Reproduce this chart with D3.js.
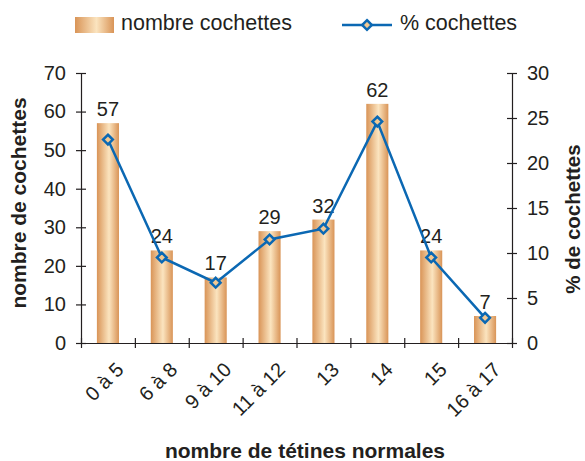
<!DOCTYPE html>
<html>
<head>
<meta charset="utf-8">
<script src="https://cdn.jsdelivr.net/npm/d3@7"></script>
<style>
body{margin:0;background:#fff;}
text{font-family:"Liberation Sans",Arial,sans-serif;fill:#231f20;}
</style>
</head>
<body>
<svg width="585" height="461"></svg>
<script>
var categories = ["0 à 5","6 à 8","9 à 10","11 à 12","13","14","15","16 à 17"];
var counts = [57,24,17,29,32,62,24,7];
var percents = [22.6,9.5,6.7,11.5,12.7,24.6,9.5,2.8];
var leftTicks = [0,10,20,30,40,50,60,70];
var rightTicks = [0,5,10,15,20,25,30];

var svg = d3.select("svg"),
	margin = {top: 73, right: 73, bottom: 118, left: 81},
	width = 585 - margin.left - margin.right,
	height = 461 - margin.top - margin.bottom,
	g = svg.append("g").attr("transform","translate("+margin.left+","+margin.top+")");

var defs = svg.append("defs");
var grad = defs.append("linearGradient").attr("id","barGrad")
	.attr("x1","0%").attr("x2","100%").attr("y1","0%").attr("y2","0%");
grad.append("stop").attr("offset","0%").attr("stop-color","#d99457");
grad.append("stop").attr("offset","55%").attr("stop-color","#fbe4bf");
grad.append("stop").attr("offset","100%").attr("stop-color","#d99457");

var x = d3.scaleBand().domain(categories).range([0,width]).paddingInner(0.59).paddingOuter(0.295);
var xb = d3.scaleLinear().domain([0,categories.length]).range([0,width]);
var y = d3.scaleLinear().domain([0,70]).range([height,0]);
var y2 = d3.scaleLinear().domain([0,30]).range([height,0]);

// bars
g.selectAll(".bar").data(counts).enter().append("rect")
	.attr("x",function(d,i){return x(categories[i]);})
	.attr("width",x.bandwidth())
	.attr("y",function(d){return y(d);})
	.attr("height",function(d){return height-y(d);})
	.attr("fill","url(#barGrad)");

g.selectAll(".val").data(counts).enter().append("text")
	.attr("x",function(d,i){return x(categories[i])+x.bandwidth()/2;})
	.attr("y",function(d){return y(d)-7;})
	.attr("text-anchor","middle")
	.style("font-size","20px")
	.text(function(d){return d;});

// axes
function crossTicks(sel, horiz){
	sel.selectAll(".tick line").attr(horiz?"y1":"x1",-5).attr(horiz?"y2":"x2",5).attr("stroke","#231f20").attr("stroke-width",1.2);
	sel.select(".domain").attr("stroke","#231f20").attr("stroke-width",1.2);
	sel.selectAll("text").style("font-size","20px").attr("fill","#231f20");
}

var ax = g.append("g").attr("transform","translate(0,"+height+")")
	.call(d3.axisBottom(xb).tickValues(d3.range(0,categories.length+1)).tickSizeOuter(0).tickFormat(""));
crossTicks(ax,true);

var al = g.append("g").call(d3.axisLeft(y).tickValues(leftTicks).tickSizeOuter(0).tickPadding(9));
crossTicks(al,false);

var ar = g.append("g").attr("transform","translate("+width+",0)")
	.call(d3.axisRight(y2).tickValues(rightTicks).tickSizeOuter(0).tickPadding(9));
crossTicks(ar,false);

// x labels
g.selectAll(".xl").data(categories).enter().append("text")
	.attr("transform",function(d){return "translate("+(x(d)+x.bandwidth()/2+7)+","+(height+18)+") rotate(-45)";})
	.attr("text-anchor","end")
	.attr("dy","0.7em")
	.style("font-size","20px")
	.text(function(d){return d;});

// line
var line = d3.line()
	.x(function(d,i){return x(categories[i])+x.bandwidth()/2;})
	.y(function(d){return y2(d);});
g.append("path").datum(percents)
	.attr("fill","none").attr("stroke","#0b68b3").attr("stroke-width",2.5)
	.attr("d",line);

var diamond = d3.symbol().type(d3.symbolDiamond2).size(60);
g.selectAll(".pt").data(percents).enter().append("path")
	.attr("d",diamond)
	.attr("transform",function(d,i){return "translate("+(x(categories[i])+x.bandwidth()/2)+","+y2(d)+")";})
	.attr("fill","#f2c993").attr("stroke","#0b68b3").attr("stroke-width",2.5);

// axis titles
svg.append("text")
	.attr("transform","translate(26,203) rotate(-90)")
	.attr("text-anchor","middle")
	.style("font-size","21px").style("font-weight","bold")
	.text("nombre de cochettes");
svg.append("text")
	.attr("transform","translate(580,219) rotate(-90)")
	.attr("text-anchor","middle")
	.style("font-size","20.5px").style("font-weight","bold")
	.text("% de cochettes");
svg.append("text")
	.attr("x",305).attr("y",458)
	.attr("text-anchor","middle")
	.style("font-size","21px").style("font-weight","bold")
	.text("nombre de tétines normales");

// legend
var lg = svg.append("g");
lg.append("rect").attr("x",75).attr("y",17).attr("width",39).attr("height",16).attr("fill","url(#barGrad)");
lg.append("text").attr("x",121).attr("y",30).style("font-size","21.5px").text("nombre cochettes");
lg.append("line").attr("x1",342).attr("x2",392).attr("y1",25).attr("y2",25)
	.attr("stroke","#0b68b3").attr("stroke-width",2.5);
lg.append("path").attr("d",diamond).attr("transform","translate(367,25)")
	.attr("fill","#f2c993").attr("stroke","#0b68b3").attr("stroke-width",2.5);
lg.append("text").attr("x",400).attr("y",30).style("font-size","21.5px").text("% cochettes");
</script>
</body>
</html>
